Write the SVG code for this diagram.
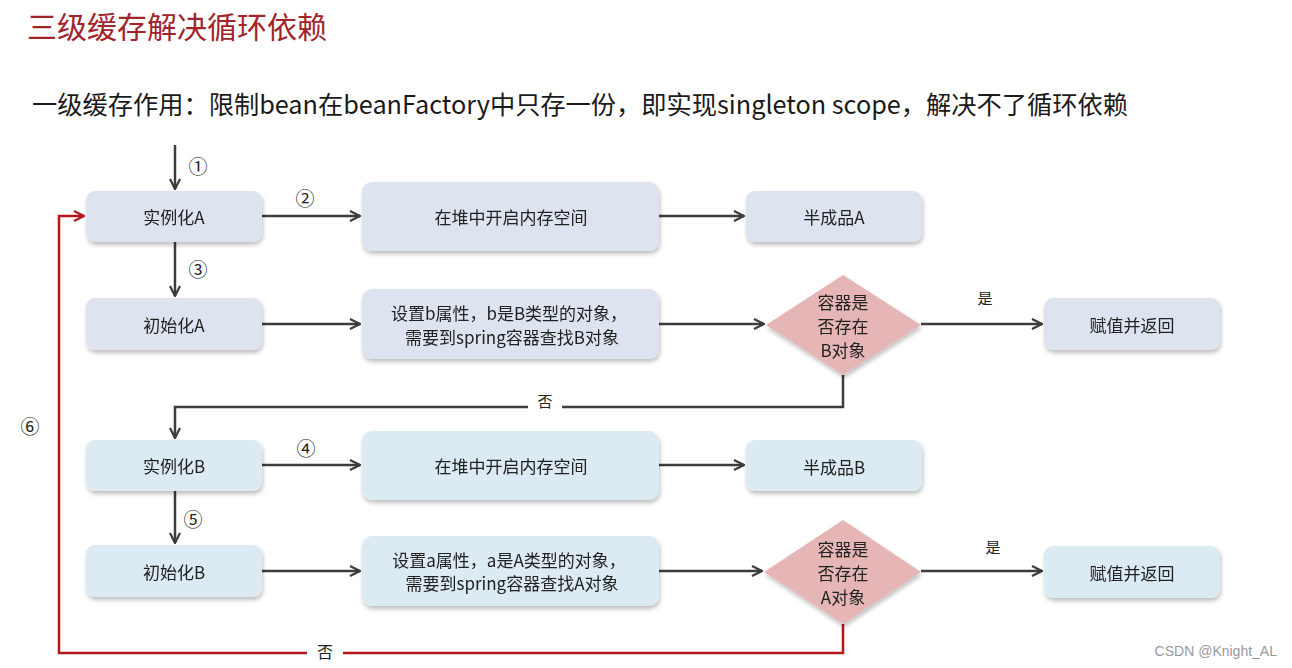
<svg xmlns="http://www.w3.org/2000/svg" width="1292" height="668" viewBox="0 0 1292 668">
<style>
.t{font-family:"Noto Sans CJK SC","Noto Sans",sans-serif;fill:#222;font-size:17px;text-anchor:middle;dominant-baseline:central}
.boxA{fill:#dde4f0}
.boxB{fill:#dbeaf3}
.dia{fill:#e6b6b6}
.c{fill:none;stroke:#3c3c3c;stroke-width:2.5}
.r{fill:none;stroke:#b3161c;stroke-width:2.5}
.lbl{font-family:"Noto Sans CJK SC","DejaVu Sans",sans-serif;font-size:19px;fill:#222;text-anchor:middle;dominant-baseline:central}
</style>
<defs>
<filter id="sh" x="-10%" y="-10%" width="120%" height="140%">
<feDropShadow dx="1" dy="3" stdDeviation="2" flood-color="#000" flood-opacity="0.25"/>
</filter>
<marker id="ah" viewBox="0 0 12 12" refX="11" refY="6" markerWidth="12" markerHeight="12" markerUnits="userSpaceOnUse" orient="auto">
<path d="M1,1 L11,6 L1,11" fill="none" stroke="#3c3c3c" stroke-width="2.2"/>
</marker>
<marker id="ahr" viewBox="0 0 12 12" refX="11" refY="6" markerWidth="12" markerHeight="12" markerUnits="userSpaceOnUse" orient="auto">
<path d="M1,1 L11,6 L1,11" fill="none" stroke="#b3161c" stroke-width="2.2"/>
</marker>
</defs>
<rect width="1292" height="668" fill="#fff"/>
<text x="27" y="38" style="font-family:'Noto Sans CJK SC',sans-serif;font-size:30px;fill:#a1242b">三级缓存解决循环依赖</text>
<text x="32" y="114" textLength="1096" lengthAdjust="spacingAndGlyphs" style="font-family:'Noto Sans CJK SC',sans-serif;font-size:25.5px;fill:#1a1a1a">一级缓存作用：限制bean在beanFactory中只存一份，即实现singleton scope，解决不了循环依赖</text>

<g id="connectors">
<path class="c" d="M175,145 V189" marker-end="url(#ah)"/>
<path class="c" d="M262,216 H360" marker-end="url(#ah)"/>
<path class="c" d="M659,216 H744" marker-end="url(#ah)"/>
<path class="c" d="M175,242 V296" marker-end="url(#ah)"/>
<path class="c" d="M262,324 H360" marker-end="url(#ah)"/>
<path class="c" d="M659,324 H764" marker-end="url(#ah)"/>
<path class="c" d="M921,324 H1042" marker-end="url(#ah)"/>
<path class="c" d="M843,375 V407 H175 V438" marker-end="url(#ah)"/>
<path class="c" d="M262,465 H360" marker-end="url(#ah)"/>
<path class="c" d="M659,465 H744" marker-end="url(#ah)"/>
<path class="c" d="M175,491 V543" marker-end="url(#ah)"/>
<path class="c" d="M262,571 H360" marker-end="url(#ah)"/>
<path class="c" d="M659,571 H762" marker-end="url(#ah)"/>
<path class="c" d="M921,571 H1042" marker-end="url(#ah)"/>
<path class="r" d="M843,624 V653 H59 V216 H84" marker-end="url(#ahr)"/>
<text class="lbl" x="198" y="165">①</text>
<text class="lbl" x="305" y="197">②</text>
<text class="lbl" x="198" y="268">③</text>
<text class="lbl" x="306" y="447">④</text>
<text class="lbl" x="193" y="518">⑤</text>
<text class="lbl" x="30" y="425">⑥</text>
<text class="t" x="985" y="297" style="font-size:15px">是</text>
<text class="t" x="993" y="546" style="font-size:15px">是</text>
<rect x="528" y="390" width="34" height="22" fill="#fff"/>
<text class="t" x="545" y="400" style="font-size:15px">否</text>
<rect x="307" y="642" width="36" height="22" fill="#fff"/>
<text class="t" x="325" y="651" style="font-size:16px">否</text>
</g>

<g id="instA" filter="url(#sh)"><rect class="boxA" x="86" y="191" width="176" height="51" rx="9"/><text class="t" x="174" y="216">实例化A</text></g>
<g id="heapA" filter="url(#sh)"><rect class="boxA" x="362" y="182" width="297" height="69" rx="10"/><text class="t" x="511" y="216">在堆中开启内存空间</text></g>
<g id="halfA" filter="url(#sh)"><rect class="boxA" x="746" y="191" width="176" height="51" rx="9"/><text class="t" x="834" y="216">半成品A</text></g>
<g id="initA" filter="url(#sh)"><rect class="boxA" x="86" y="298" width="176" height="52" rx="9"/><text class="t" x="174" y="324">初始化A</text></g>
<g id="setB" filter="url(#sh)"><rect class="boxA" x="362" y="289" width="297" height="70" rx="10"/><text class="t" x="509" y="312">设置b属性，b是B类型的对象，</text><text class="t" x="512" y="336">需要到spring容器查找B对象</text></g>
<g id="hasB" filter="url(#sh)"><polygon class="dia" points="843,275 921,325 843,375 766,325"/><text class="t" x="843" y="301">容器是</text><text class="t" x="843" y="325">否存在</text><text class="t" x="843" y="349">B对象</text></g>
<g id="retA" filter="url(#sh)"><rect class="boxA" x="1044" y="298" width="176" height="52" rx="9"/><text class="t" x="1132" y="324">赋值并返回</text></g>

<g id="instB" filter="url(#sh)"><rect class="boxB" x="86" y="440" width="176" height="51" rx="9"/><text class="t" x="174" y="465">实例化B</text></g>
<g id="heapB" filter="url(#sh)"><rect class="boxB" x="362" y="431" width="297" height="69" rx="10"/><text class="t" x="511" y="465">在堆中开启内存空间</text></g>
<g id="halfB" filter="url(#sh)"><rect class="boxB" x="746" y="440" width="176" height="51" rx="9"/><text class="t" x="834" y="466">半成品B</text></g>
<g id="initB" filter="url(#sh)"><rect class="boxB" x="86" y="545" width="176" height="52" rx="9"/><text class="t" x="174" y="571">初始化B</text></g>
<g id="setA" filter="url(#sh)"><rect class="boxB" x="362" y="536" width="297" height="70" rx="10"/><text class="t" x="509" y="559">设置a属性，a是A类型的对象，</text><text class="t" x="512" y="582">需要到spring容器查找A对象</text></g>
<g id="hasA" filter="url(#sh)"><polygon class="dia" points="843,520 921,572 843,624 764,572"/><text class="t" x="843" y="548">容器是</text><text class="t" x="843" y="572">否存在</text><text class="t" x="843" y="596">A对象</text></g>
<g id="retB" filter="url(#sh)"><rect class="boxB" x="1044" y="546" width="176" height="52" rx="9"/><text class="t" x="1132" y="572">赋值并返回</text></g>

<text x="1277" y="656" style="font-family:'Liberation Sans',sans-serif;font-size:14px;fill:#999;text-anchor:end">CSDN @Knight_AL</text>
</svg>
